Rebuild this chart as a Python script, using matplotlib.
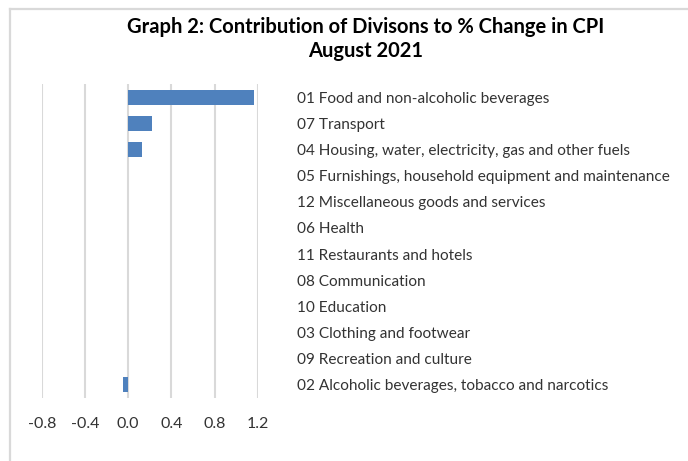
import matplotlib
matplotlib.use("Agg")
import matplotlib.pyplot as plt
from matplotlib.lines import Line2D

categories = [
    "01 Food and non-alcoholic beverages",
    "07 Transport",
    "04 Housing, water, electricity, gas and other fuels",
    "05 Furnishings, household equipment and maintenance",
    "12 Miscellaneous goods and services",
    "06 Health",
    "11 Restaurants and hotels",
    "08 Communication",
    "10 Education",
    "03 Clothing and footwear",
    "09 Recreation and culture",
    "02 Alcoholic beverages, tobacco and narcotics",
]
values = [1.17, 0.22, 0.13, 0.0, 0.0, 0.0, 0.0, 0.0, 0.0, 0.0, 0.0, -0.05]
xticks = [-0.8, -0.4, 0.0, 0.4, 0.8, 1.2]
xtick_labels = ["-0.8", "-0.4", "0.0", "0.4", "0.8", "1.2"]
title = "Graph 2: Contribution of Divisons to % Change in CPI\nAugust 2021"

plt.rcParams['font.family'] = ['Lato', 'DejaVu Sans']

W, H = 688, 461
fig = plt.figure(figsize=(W / 100, H / 100), dpi=100)
ax = fig.add_axes([41.7 / W, 1 - 398 / H, (257.7 - 41.7) / W, (398 - 84) / H])

ypos = list(range(len(categories)))
ax.barh(ypos, values, height=0.57, color="#4f81bd", zorder=3)
ax.set_ylim(len(categories) - 0.5, -0.5)
ax.set_xlim(-0.8, 1.2)
ax.set_xticks(xticks)
ax.set_xticklabels(xtick_labels, fontsize=11.5, color="#333333")
ax.set_yticks(ypos)
ax.set_yticklabels(categories, fontsize=11.1, color="#333333")
ax.yaxis.tick_right()
ax.tick_params(axis="y", length=0, pad=28.5)
ax.tick_params(axis="x", length=0, pad=14)
for s in ax.spines.values():
    s.set_visible(False)
ax.grid(axis="x", color="#d9d9d9", linewidth=1.5, zorder=0)
ax.set_axisbelow(True)

fig.text(366 / W, 1 - 39 / H, title, ha="center", va="center", fontsize=14.5,
         fontweight="bold", color="#000000", linespacing=1.2)

# chart frame
fig.add_artist(Line2D([10 / W, 1.0], [1 - 9 / H, 1 - 9 / H], color="#d9d9d9", linewidth=1.6))
fig.add_artist(Line2D([10 / W, 10 / W], [1 - 9 / H, 0.0], color="#d9d9d9", linewidth=1.6))

fig.savefig("out.png", dpi=100)
